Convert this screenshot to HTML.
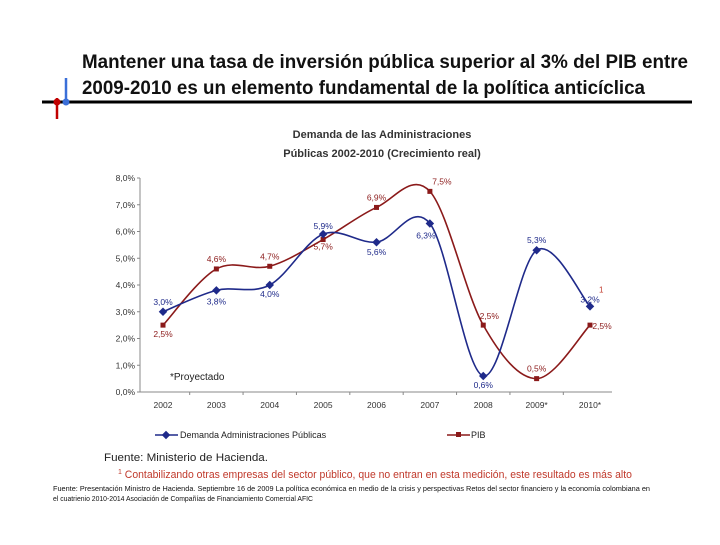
<!DOCTYPE html>
<html><head><meta charset="utf-8"><style>
body{margin:0;background:#fff;width:720px;height:540px;overflow:hidden;font-family:"Liberation Sans",sans-serif}
</style></head><body>
<svg width="720" height="540" id="svg" font-family="Liberation Sans, sans-serif">
<text x="82" y="68" font-size="19.5" font-weight="bold" fill="#111" textLength="606" lengthAdjust="spacingAndGlyphs">Mantener una tasa de inversión pública superior al 3% del PIB entre</text>
<text x="82" y="94" font-size="19.5" font-weight="bold" fill="#111" textLength="563" lengthAdjust="spacingAndGlyphs">2009-2010 es un elemento fundamental de la política anticíclica</text>
<line x1="42" y1="102" x2="692" y2="102" stroke="#000" stroke-width="3"/>
<line x1="57" y1="98" x2="57" y2="119" stroke="#c00000" stroke-width="2.5"/>
<circle cx="57" cy="102" r="3.5" fill="#c00000"/>
<line x1="66" y1="78" x2="66" y2="101" stroke="#3a6fd8" stroke-width="2.5"/>
<circle cx="66" cy="102" r="3.5" fill="#3a6fd8"/>
<text x="382" y="138" font-size="11" font-weight="bold" fill="#333" text-anchor="middle">Demanda de las Administraciones</text>
<text x="382" y="157" font-size="11" font-weight="bold" fill="#333" text-anchor="middle">Públicas 2002-2010 (Crecimiento real)</text>
<g id="chart"></g>
<text x="170" y="380" font-size="10" fill="#222">*Proyectado</text>
<line x1="155" y1="435" x2="178" y2="435" stroke="#1f2a8a" stroke-width="1.5"/>
<rect x="163" y="432" width="6" height="6" fill="#1f2a8a" transform="rotate(45 166 435)"/>
<text x="180" y="438" font-size="9" fill="#222">Demanda Administraciones Públicas</text>
<line x1="447" y1="435" x2="470" y2="435" stroke="#8b1a1a" stroke-width="1.5"/>
<rect x="456" y="432" width="5" height="5" fill="#8b1a1a"/>
<text x="471" y="438" font-size="9" fill="#222">PIB</text>
<text x="104" y="461" font-size="11" fill="#222" textLength="164" lengthAdjust="spacingAndGlyphs">Fuente: Ministerio de Hacienda.</text>
<text x="118" y="478" font-size="11" fill="#c0392b"><tspan font-size="7" dy="-4">1</tspan><tspan dy="4" textLength="510" lengthAdjust="spacingAndGlyphs"> Contabilizando otras empresas del sector público, que no entran en esta medición, este resultado es más alto</tspan></text>
<text x="53" y="491" font-size="7" fill="#111" textLength="597" lengthAdjust="spacingAndGlyphs">Fuente: Presentación Ministro de Hacienda. Septiembre 16 de 2009 La política económica en medio de la crisis y perspectivas Retos del sector financiero y la economía colombiana en</text>
<text x="53" y="501" font-size="7" fill="#111" textLength="260" lengthAdjust="spacingAndGlyphs">el cuatrienio 2010-2014 Asociación de Compañías de Financiamiento Comercial AFIC</text>
</svg>
<script>
const categories=["2002","2003","2004","2005","2006","2007","2008","2009*","2010*"];
const demanda=[3.0,3.8,4.0,5.9,5.6,6.3,0.6,5.3,3.2];
const pib=[2.5,4.6,4.7,5.7,6.9,7.5,2.5,0.5,2.5];
const yTicks=[0,1,2,3,4,5,6,7,8];
const demandaLabels=["3,0%","3,8%","4,0%","5,9%","5,6%","6,3%","0,6%","5,3%","3,2%"];
const pibLabels=["2,5%","4,6%","4,7%","5,7%","6,9%","7,5%","2,5%","0,5%","2,5%"];
const NS="http://www.w3.org/2000/svg";
const g=document.getElementById('chart');
const X0=140,X1=612,Y0=392,Y8=178,XF=163,XL=590;
const xs=i=>XF+(XL-XF)/(categories.length-1)*i;
const ys=v=>Y0-(Y0-Y8)*v/8;
function el(t,a){const e=document.createElementNS(NS,t);for(const k in a)e.setAttribute(k,a[k]);g.appendChild(e);return e;}
let ax=el('line',{x1:X0,y1:Y8,x2:X0,y2:Y0,stroke:'#888'});


let bx=el('line',{x1:X0,y1:Y0,x2:X1,y2:Y0,stroke:'#888'});


yTicks.forEach(v=>{el('line',{x1:X0-3,y1:ys(v),x2:X0,y2:ys(v),stroke:'#888'});
const t=el('text',{x:X0-5,y:ys(v)+3,'font-size':8.5,'text-anchor':'end',fill:'#333'});t.textContent=v.toFixed(1).replace('.',',')+'%';

});
const step=(XL-XF)/(categories.length-1);
categories.forEach((c,i)=>{const b=xs(i)-step/2;if(i>0)el('line',{x1:b,y1:Y0,x2:b,y2:Y0+3,stroke:'#888'});
const t=el('text',{x:xs(i),y:Y0+16,'font-size':8.5,'text-anchor':'middle',fill:'#333'});t.textContent=c;

});
function path(vals){const p=vals.map((v,i)=>[xs(i),ys(v)]);let d='M'+p[0];for(let i=0;i<p.length-1;i++){const a=p[i-1]||p[i],b=p[i],c=p[i+1],e=p[i+2]||c;
d+=` C${b[0]+(c[0]-a[0])/6},${b[1]+(c[1]-a[1])/6} ${c[0]-(e[0]-b[0])/6},${c[1]-(e[1]-b[1])/6} ${c[0]},${c[1]}`;}return d;}
const pl=el('path',{d:path(pib),fill:'none',stroke:'#8b1a1a','stroke-width':1.6});


const dl=el('path',{d:path(demanda),fill:'none',stroke:'#1f2a8a','stroke-width':1.6});


const pOff=[[0,12],[0,-7],[0,-7],[0,10],[0,-7],[12,-7],[6,-6],[0,-7],[12,4]];
const dOff=[[0,-7],[0,14],[0,12],[0,-5],[0,13],[-4,15],[0,12],[0,-7],[0,-4]];
pib.forEach((v,i)=>{const r=el('rect',{x:xs(i)-2.5,y:ys(v)-2.5,width:5,height:5,fill:'#8b1a1a'});


const t=el('text',{x:xs(i)+pOff[i][0],y:ys(v)+pOff[i][1],'font-size':8.5,'text-anchor':'middle',fill:'#8b1a1a'});t.textContent=pibLabels[i];

});
demanda.forEach((v,i)=>{const r=el('rect',{x:xs(i)-3,y:ys(v)-3,width:6,height:6,fill:'#1f2a8a',transform:`rotate(45 ${xs(i)} ${ys(v)})`});


const t=el('text',{x:xs(i)+dOff[i][0],y:ys(v)+dOff[i][1],'font-size':8.5,'text-anchor':'middle',fill:'#1f2a8a'});t.textContent=demandaLabels[i];

});
const fn=el('text',{x:xs(8)+9,y:ys(3.2)-14,'font-size':8,fill:'#c0392b'});fn.textContent='1';


</script>
</body></html>
